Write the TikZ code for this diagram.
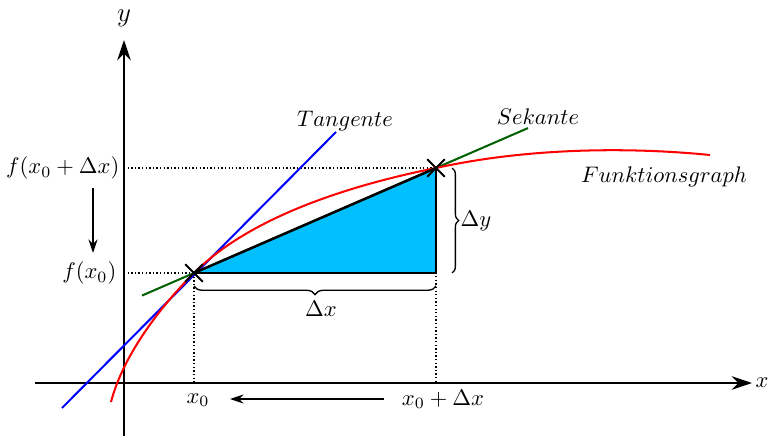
\documentclass[tikz,border=0pt]{standalone}
\usetikzlibrary{arrows.meta,decorations.pathreplacing,shapes.misc,calc}
\definecolor{tri}{RGB}{0,191,255}
\definecolor{sek}{RGB}{0,95,0}
\begin{document}
\begin{tikzpicture}[x=0.444pt,y=-0.444pt,
  axis/.style={line width=1.1pt,-{Stealth[length=9pt,width=6pt]}},
  dotl/.style={densely dotted,line width=0.6pt},
  xmark/.style={draw,cross out,line width=0.8pt,minimum size=7pt,inner sep=0pt},
  lbl/.style={inner sep=1pt},
  brc/.style={decorate,line width=0.6pt}]
\useasboundingbox (0,0) rectangle (769,436);
% coordinates
\coordinate (O) at (124,383);
\coordinate (P0) at (194,273);
\coordinate (P1) at (436,168);
\coordinate (Q) at (436,273);
\coordinate (Y0) at (124,273);
\coordinate (Y1) at (124,168);
\coordinate (X0) at (194,383);
\coordinate (X1) at (436,383);
\coordinate (xs) at (35,383);
\coordinate (xe) at (752,383);
\coordinate (ys) at (124,436);
\coordinate (ye) at (124,40);
% triangle fill
\fill[tri] (P0) -- (P1) -- (Q) -- cycle;
% dotted lines
\draw[dotl] (Y1) -- (P1);
\draw[dotl] (Y0) -- (P0);
\draw[dotl] (P0) -- (X0);
\draw[dotl] (P1) -- (X1);
% axes
\draw[axis] (xs) -- (xe);
\draw[axis] (ys) -- (ye);
\node[lbl] (xl) at (762,383) {$x$};
\node[lbl] (yl) at (124,18) {\large $y$};
% secant
\coordinate (s1) at ($(P0)!-0.215!(P1)$);
\coordinate (s2) at ($(P0)!1.38!(P1)$);
\draw[sek,line width=0.9pt] (s1) -- (s2);
% tangent
\coordinate (t1) at (62,408);
\coordinate (t2) at (336,132);
\draw[blue,line width=0.9pt] (t1) -- (t2);
% function graph
\coordinate (c0) at (111,402);
\coordinate (c3) at (710,155);
\draw[red,line width=0.9pt] (c0) .. controls (123,356) and (159,308) .. (P0)
   .. controls (249,218) and (346,186) .. (P1)
   .. controls (536,146) and (640,148) .. (c3);
% triangle edges
\draw[line width=0.6pt] (P1) -- (Q) -- (P0);
\draw[line width=1.1pt] (P0) -- (P1);
% marks
\node[xmark] (m0) at (P0) {};
\node[xmark] (m1) at (P1) {};
% braces
\coordinate (b1) at (194,286);
\coordinate (b2) at (436,286);
\draw[brc,decoration={brace,mirror,amplitude=3.8pt}] (b1) -- (b2);
\node[lbl] (dx) at (321,309) {$\Delta x$};
\coordinate (b3) at (452,168);
\coordinate (b4) at (452,273);
\draw[brc,decoration={brace,amplitude=3pt}] (b3) -- (b4);
\node[lbl] (dy) at (476,221) {$\Delta y$};
% labels left
\node[lbl,anchor=east] (f1) at (122,168) {$f(x_0+\Delta x)$};
\node[lbl,anchor=east] (f0) at (119,273) {$f(x_0)$};
\coordinate (a1) at (93,188);
\coordinate (a2) at (93,253);
\draw[line width=0.6pt,-{Stealth[length=6pt,width=4pt]}] (a1) -- (a2);
% labels bottom
\node[lbl] (lx0) at (198,400) {$x_0$};
\node[lbl] (lx1) at (443,399) {$x_0+\Delta x$};
\coordinate (a3) at (384,399);
\coordinate (a4) at (230,399);
\draw[line width=0.6pt,-{Stealth[length=6pt,width=4pt]}] (a3) -- (a4);
% curve labels
\node[lbl] (tl) at (345,121) {$Tangente$};
\node[lbl] (sl) at (538,117) {$Sekante$};
\node[lbl] (fl) at (664,177) {$Funktionsgraph$};
\end{tikzpicture}
\end{document}
